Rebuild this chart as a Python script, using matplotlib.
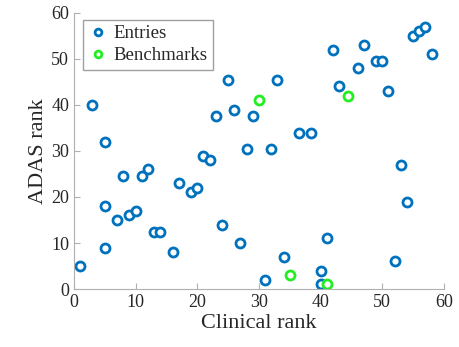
import matplotlib
matplotlib.use("Agg")
import matplotlib.pyplot as plt

plt.rcParams['font.family'] = ['Liberation Serif', 'DejaVu Serif']

entries_x = [1, 3, 5, 5, 5, 7, 8, 9, 10, 11, 12, 13, 14, 16, 17, 19, 20, 21, 22, 23,
             24, 25, 26, 27, 28, 29, 31, 32, 33, 34, 36.5, 38.5, 40, 40, 41, 42, 43,
             46, 47, 49, 50, 51, 52, 53, 54, 55, 56, 57, 58]
entries_y = [5, 40, 32, 18, 9, 15, 24.5, 16, 17, 24.5, 26, 12.5, 12.5, 8, 23, 21, 22, 29, 28, 37.5,
             14, 45.5, 39, 10, 30.5, 37.5, 2, 30.5, 45.5, 7, 34, 34, 4, 1, 11, 52, 44,
             48, 53, 49.5, 49.5, 43, 6, 27, 19, 55, 56, 57, 51]
bench_x = [30, 35, 41, 44.5]
bench_y = [41, 3, 1, 42]

fig = plt.figure(figsize=(4.59, 3.47), dpi=100)
ax = fig.add_axes([0.161, 0.167, 0.806, 0.796])

ax.plot(entries_x, entries_y, 'o', mfc='white', mec='#0072BD', mew=2, ms=6.5,
        linestyle='none', label='Entries')
ax.plot(bench_x, bench_y, 'o', mfc='white', mec='#22ee22', mew=2, ms=6.5,
        linestyle='none', label='Benchmarks')

ax.set_xlim(0, 60)
ax.set_ylim(0, 60)
ax.set_xticks(range(0, 61, 10))
ax.set_yticks(range(0, 61, 10))
for s in ['top', 'right']:
    ax.spines[s].set_visible(False)
for s in ['left', 'bottom']:
    ax.spines[s].set_color('#b0b0b0')
ax.tick_params(direction='in', color='#b0b0b0', labelsize=13, labelcolor='#262626', length=4)
ax.set_xlabel('Clinical rank', fontsize=16, color='#262626', labelpad=2)
ax.set_ylabel('ADAS rank', fontsize=16, color='#262626', labelpad=2)

leg = ax.legend(loc='upper left', fontsize=13.5, fancybox=False, edgecolor='#a0a0a0',
                framealpha=1, handletextpad=0.35, borderpad=0.3, labelspacing=0.25,
                bbox_to_anchor=(0.024, 0.975), borderaxespad=0, markerscale=0.75,
                handlelength=1.0)
leg.get_frame().set_linewidth(1)
for t in leg.get_texts():
    t.set_color('#262626')

fig.savefig('out.png', dpi=100)
